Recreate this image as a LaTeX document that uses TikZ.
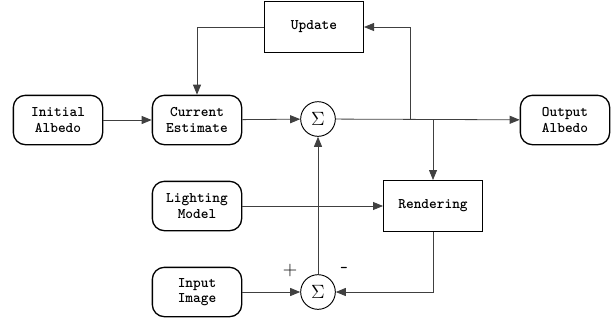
\documentclass[tikz,border=0pt]{standalone}
\usepackage{fontspec}
\usepackage{tikz}
\usetikzlibrary{arrows.meta,positioning}

\tikzset{
  blockround/.style={draw, line width=1pt, rounded corners=9pt, minimum width=67pt,
    minimum height=37pt, align=center, inner sep=1pt},
  blocksq/.style={draw, line width=1pt, minimum width=74pt, minimum height=38pt,
    align=center, inner sep=1pt},
  sumnode/.style={draw, circle, line width=0.7pt, minimum size=26pt, inner sep=0pt,
    font=\Large},
  link/.style={->, line width=0.6pt, draw=black!75},
}

\begin{document}
\begin{tikzpicture}[x=0.75pt, y=-0.75pt, >={Triangle[length=7.5pt,width=6pt]},
  font=\fontsize{11}{11.4}\selectfont\ttfamily\bfseries]
\useasboundingbox (0,0) rectangle (613,322);

% blocks
\node[blockround] (init)  at (58,120)  {Initial\\Albedo};
\node[blockround] (cur)   at (197,120) {Current\\Estimate};
\node[sumnode]    (sum1)  at (318,119) {$\Sigma$};
\node[blockround] (out)   at (565,120) {Output\\Albedo};
\node[blocksq]    (upd)   at (314,27)  {Update};
\node[blockround] (light) at (197,206) {Lighting\\Model};
\node[blocksq]    (rend)  at (433,206) {Rendering};
\node[blockround] (img)   at (197,292) {Input\\Image};
\node[sumnode]    (sum2)  at (318,292) {$\Sigma$};

% signs at the lower sum
\node[font=\fontsize{15}{15}\selectfont] (plus) at (290,271) {+};
\node (minus) at (344,270) {-};

% taps on the output line
\coordinate (tapupd)  at (410,119);
\coordinate (taprend) at (433,119);

% connectors
\draw[link] (init) -- (cur);
\draw[link] (cur) -- (sum1);
\draw[link] (sum1) -- (out);
\draw[link] (tapupd) |- (upd);
\draw[link] (upd) -| (cur);
\draw[link] (taprend) -- (rend);
\draw[link] (light) -- (rend);
\draw[link] (img) -- (sum2);
\draw[link] (rend) |- (sum2);
\draw[link] (sum2) -- (sum1);
\end{tikzpicture}
\end{document}
